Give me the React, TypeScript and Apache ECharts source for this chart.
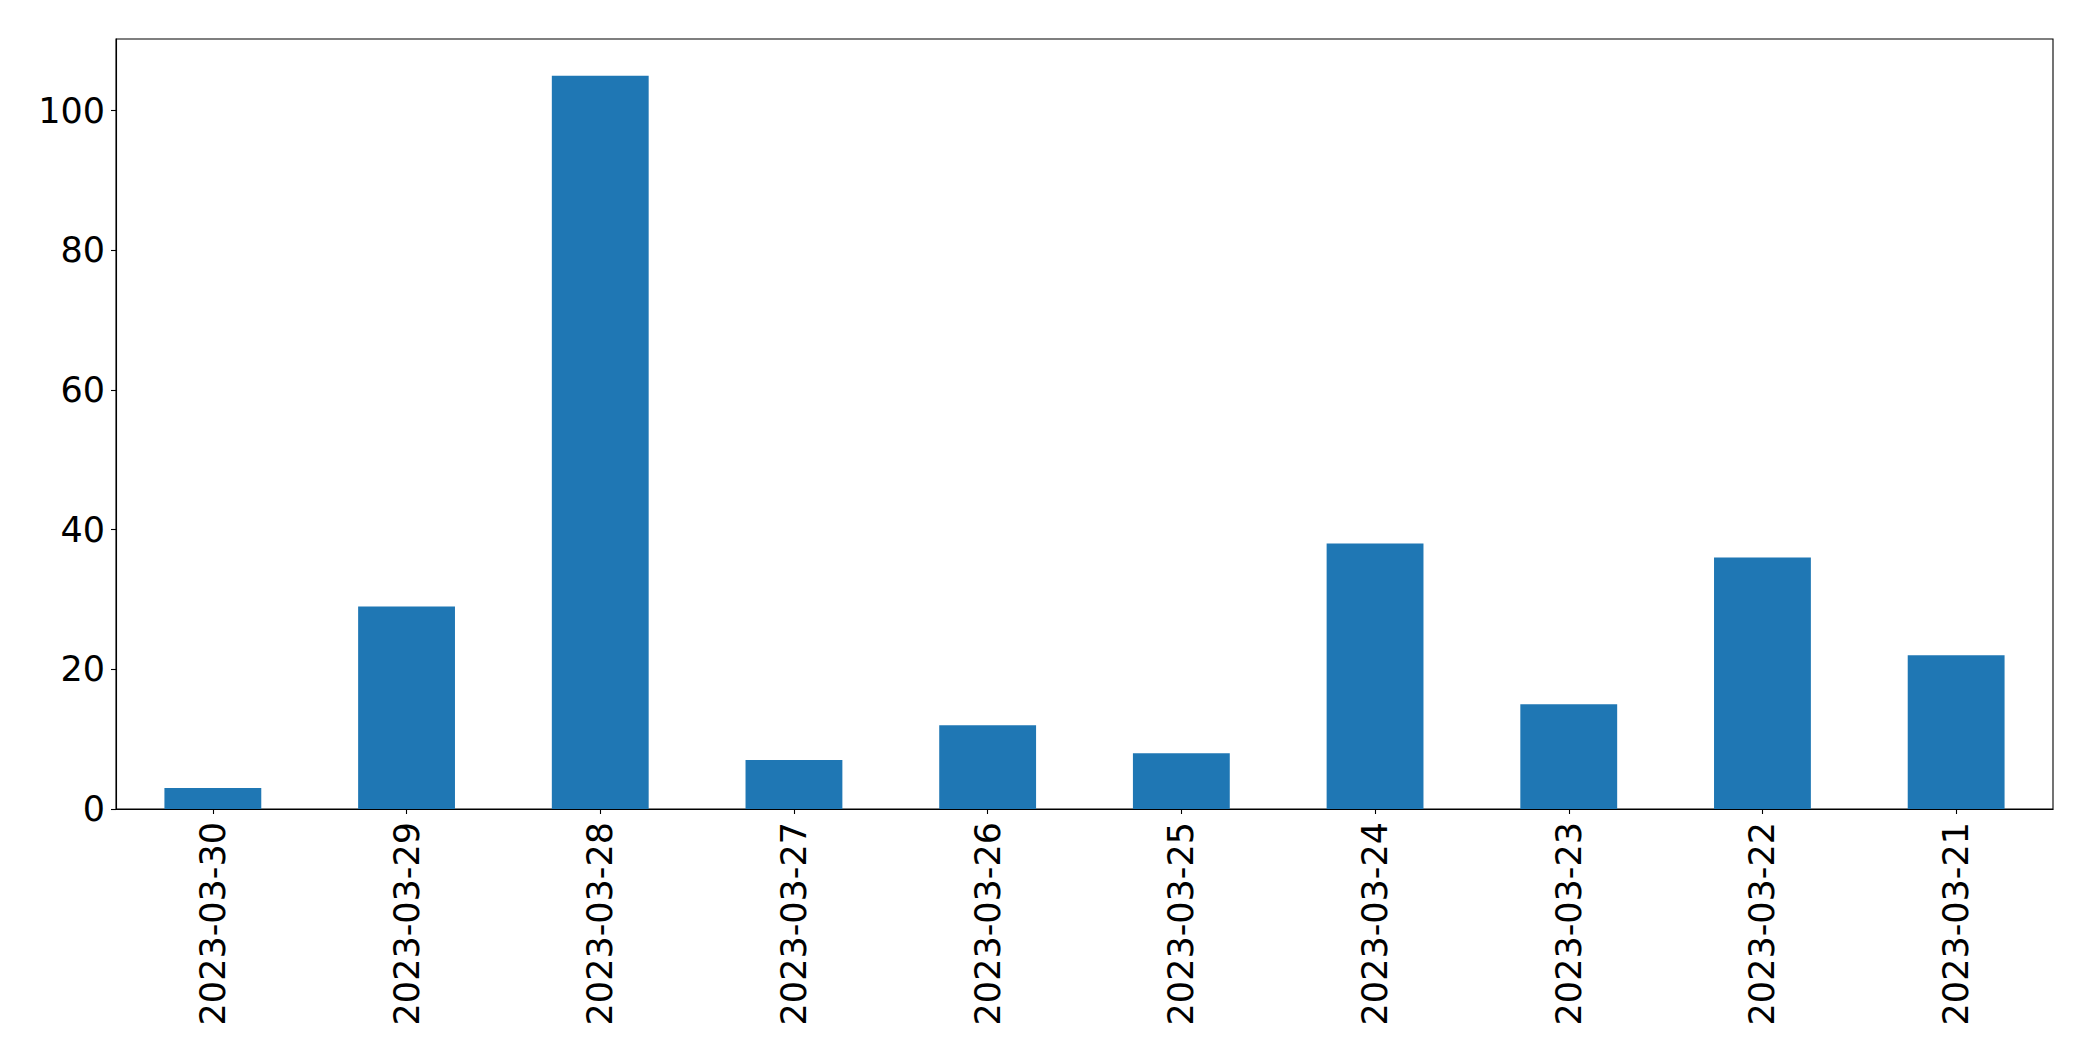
import React, { useEffect, useRef } from "react";
import * as echarts from "echarts";

const categories = [
  "2023-03-30",
  "2023-03-29",
  "2023-03-28",
  "2023-03-27",
  "2023-03-26",
  "2023-03-25",
  "2023-03-24",
  "2023-03-23",
  "2023-03-22",
  "2023-03-21",
];
const values = [3, 29, 105, 7, 12, 8, 38, 15, 36, 22];
const yTicks = [0, 20, 40, 60, 80, 100];
const yMax = 110.25;

export default function App() {
  const ref = useRef<HTMLDivElement>(null);
  useEffect(() => {
    if (!ref.current) return;
    const chart = echarts.init(ref.current, undefined, { renderer: "svg" });
    const font = "'DejaVu Sans', sans-serif";
    chart.setOption({
      animation: false,
      backgroundColor: "#ffffff",
      grid: {
        left: 116,
        top: 39,
        width: 1937,
        height: 770,
        show: true,
        borderColor: "#000000",
        borderWidth: 1.1,
        backgroundColor: "transparent",
      },
      xAxis: {
        type: "category",
        data: categories,
        boundaryGap: true,
        axisLine: { show: true, lineStyle: { color: "#000000", width: 1.1 } },
        axisTick: {
          show: true,
          alignWithLabel: true,
          length: 5,
          lineStyle: { color: "#000000", width: 1.1 },
        },
        axisLabel: {
          rotate: 90,
          fontSize: 35,
          fontFamily: font,
          color: "#000000",
          margin: 13,
          interval: 0,
        },
        splitLine: { show: false },
      },
      yAxis: {
        type: "value",
        min: 0,
        max: yMax,
        interval: 20,
        axisLine: { show: true, lineStyle: { color: "#000000", width: 1.1 } },
        axisTick: {
          show: true,
          length: 5,
          lineStyle: { color: "#000000", width: 1.1 },
          customValues: yTicks,
        },
        axisLabel: {
          fontSize: 35,
          fontFamily: font,
          color: "#000000",
          margin: 11,
          customValues: yTicks,
        },
        splitLine: { show: false },
      },
      series: [
        {
          type: "bar",
          data: values,
          barWidth: "50%",
          itemStyle: { color: "#1f77b4" },
        },
      ],
    });
    return () => chart.dispose();
  }, []);
  return (
    <div
      ref={ref}
      style={{ position: "absolute", left: 0, top: 0, width: 2093, height: 1061 }}
    />
  );
}
